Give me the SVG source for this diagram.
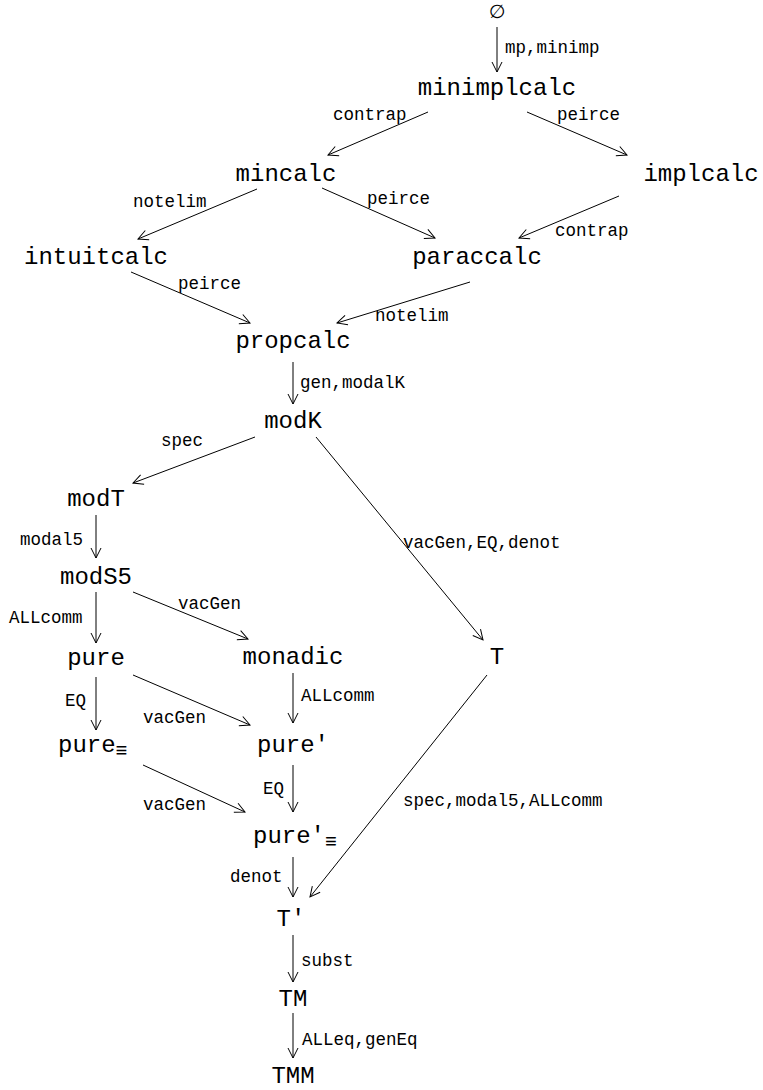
<svg xmlns="http://www.w3.org/2000/svg" width="763" height="1090" viewBox="0 0 763 1090">
<style>
.n{font-family:"Liberation Mono","DejaVu Sans Mono",monospace;font-size:24px;fill:#000;text-anchor:middle}
.ns{font-family:"Liberation Mono","DejaVu Sans Mono",monospace;font-size:24px;fill:#000}
.l{font-family:"Liberation Mono","DejaVu Sans Mono",monospace;font-size:17.5px;fill:#000}
.e{stroke:#000;stroke-width:1;fill:none;marker-end:url(#ah)}
</style>
<defs>
<marker id="ah" markerUnits="userSpaceOnUse" markerWidth="14" markerHeight="12" viewBox="-12 -6 14 12" refX="0" refY="0" orient="auto">
<path d="M-10,-5 Q-3,-1.5 0,0 Q-3,1.5 -10,5" stroke="#000" stroke-width="1" fill="none"/>
</marker>
</defs>
<rect width="763" height="1090" fill="#fff"/>
<g id="connectors">
<line class="e" x1="497" y1="27" x2="497" y2="72"/>
<text class="l" x="505" y="53">mp,minimp</text>
<line class="e" x1="428" y1="112" x2="328" y2="155"/>
<text class="l" x="333" y="120">contrap</text>
<line class="e" x1="527" y1="112" x2="627" y2="155"/>
<text class="l" x="557" y="120">peirce</text>
<line class="e" x1="257" y1="189" x2="138" y2="239"/>
<text class="l" x="133" y="207">notelim</text>
<line class="e" x1="322" y1="188" x2="435" y2="238"/>
<text class="l" x="367" y="204">peirce</text>
<line class="e" x1="619" y1="196" x2="519" y2="238"/>
<text class="l" x="555" y="236">contrap</text>
<line class="e" x1="131" y1="272" x2="250" y2="323"/>
<text class="l" x="178" y="289">peirce</text>
<line class="e" x1="470" y1="282" x2="337" y2="323"/>
<text class="l" x="375" y="321">notelim</text>
<line class="e" x1="293" y1="362" x2="293" y2="404"/>
<text class="l" x="300" y="388">gen,modalK</text>
<line class="e" x1="255" y1="437" x2="133" y2="483"/>
<text class="l" x="161" y="446">spec</text>
<line class="e" x1="316" y1="437" x2="483" y2="640"/>
<text class="l" x="403" y="548">vacGen,EQ,denot</text>
<line class="e" x1="96" y1="515" x2="96" y2="558"/>
<text class="l" x="20" y="545">modal5</text>
<line class="e" x1="96" y1="592" x2="96" y2="643"/>
<text class="l" x="9" y="623">ALLcomm</text>
<line class="e" x1="133" y1="592" x2="248" y2="639"/>
<text class="l" x="178" y="609">vacGen</text>
<line class="e" x1="96" y1="677" x2="96" y2="730"/>
<text class="l" x="65" y="706">EQ</text>
<line class="e" x1="133" y1="675" x2="250" y2="725"/>
<text class="l" x="143" y="723">vacGen</text>
<line class="e" x1="293" y1="673" x2="293" y2="723"/>
<text class="l" x="301" y="701">ALLcomm</text>
<line class="e" x1="143" y1="765" x2="245" y2="812"/>
<text class="l" x="143" y="810">vacGen</text>
<line class="e" x1="293" y1="765" x2="293" y2="812"/>
<text class="l" x="263" y="794">EQ</text>
<line class="e" x1="293" y1="857" x2="293" y2="897"/>
<text class="l" x="230" y="882">denot</text>
<line class="e" x1="487" y1="675" x2="310" y2="897"/>
<text class="l" x="403" y="806">spec,modal5,ALLcomm</text>
<line class="e" x1="293" y1="935" x2="293" y2="982"/>
<text class="l" x="301" y="966">subst</text>
<line class="e" x1="293" y1="1013" x2="293" y2="1058"/>
<text class="l" x="302" y="1045">ALLeq,genEq</text>
</g>
<g id="n-empty"><text x="497" y="18" style="font-family:'DejaVu Sans',sans-serif;font-size:19px;text-anchor:middle">∅</text></g>
<g id="n-minimplcalc"><text class="n" x="497" y="95">minimplcalc</text></g>
<g id="n-mincalc"><text class="n" x="286" y="181">mincalc</text></g>
<g id="n-implcalc"><text class="n" x="701" y="181">implcalc</text></g>
<g id="n-intuitcalc"><text class="n" x="96" y="264">intuitcalc</text></g>
<g id="n-paraccalc"><text class="n" x="477" y="264">paraccalc</text></g>
<g id="n-propcalc"><text class="n" x="293" y="348">propcalc</text></g>
<g id="n-modK"><text class="n" x="293" y="428">modK</text></g>
<g id="n-modT"><text class="n" x="96" y="506">modT</text></g>
<g id="n-modS5"><text class="n" x="96" y="584">modS5</text></g>
<g id="n-pure"><text class="n" x="96" y="665">pure</text></g>
<g id="n-monadic"><text class="n" x="293" y="664">monadic</text></g>
<g id="n-T"><text class="n" x="497" y="664">T</text></g>
<g id="n-pureEq"><text class="ns" x="58" y="752">pure<tspan font-size="20" dy="5">≡</tspan></text></g>
<g id="n-purePrime"><text class="n" x="293" y="752">pure′</text></g>
<g id="n-purePrimeEq"><text class="ns" x="253" y="843">pure′<tspan font-size="20" dy="5">≡</tspan></text></g>
<g id="n-TPrime"><text class="n" x="291" y="926">T′</text></g>
<g id="n-TM"><text class="n" x="293" y="1006">TM</text></g>
<g id="n-TMM"><text class="n" x="293" y="1083">TMM</text></g>
</svg>
